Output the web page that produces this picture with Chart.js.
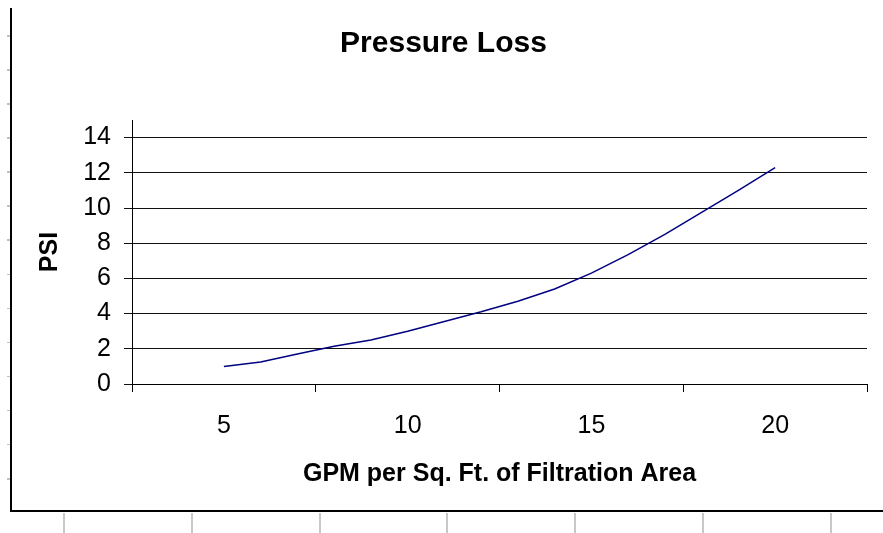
<!DOCTYPE html>
<html lang="en">
<head>
  <meta charset="UTF-8" />
  <title>Pressure Loss</title>
  <script src="https://cdn.jsdelivr.net/npm/chart.js"></script>
  <style>
    html, body {
      margin: 0;
      padding: 0;
      background: #fff;
      width: 883px;
      height: 533px;
      overflow: hidden;
      position: relative;
    }
    /* worksheet frame around the chart object */
    #frame {
      position: absolute;
      left: 10px;
      top: 8px;
      width: 871px;
      height: 502px;
      border-left: 2px solid #000;
      border-bottom: 2px solid #000;
    }
    #rowTicks {
      position: absolute;
      left: 7px;
      top: 35px;
      width: 3px;
      height: 460px;
      background: repeating-linear-gradient(to bottom, #c0c0c0 0 1.5px, transparent 1.5px 34.08px);
    }
    #colTicks {
      position: absolute;
      left: 63px;
      top: 513px;
      width: 820px;
      height: 20px;
      background: repeating-linear-gradient(to right, #c8c8c8 0 2px, transparent 2px 127.8px);
    }
    canvas {
      position: absolute;
      left: 0;
      top: 0;
    }
  </style>
</head>
<body>
  <div id="frame"></div>
  <div id="rowTicks"></div>
  <div id="colTicks"></div>
  <canvas id="chart" width="883" height="533"></canvas>

  <script>
    // GPM per sq. ft. and the pressure loss
    const gpm = [5, 6, 7, 8, 9, 10, 11, 12, 13, 14, 15, 16, 17, 18, 19, 20];
    const psi = [1.0, 1.25, 1.7, 2.15, 2.5, 3.0, 3.55, 4.1, 4.7, 5.4, 6.3, 7.35, 8.5, 9.75, 11.0, 12.3];
    const xLabels = [5, 10, 15, 20];
    const yTicks = [0, 2, 4, 6, 8, 10, 12, 14];

    Chart.defaults.font.family = '"Liberation Sans", Arial, sans-serif';
    Chart.defaults.color = '#000';

    const points = gpm.map((g, i) => ({ x: g, y: psi[i] }));

    new Chart(document.getElementById('chart'), {
      type: 'line',
      data: {
        datasets: [{
          label: 'PSI',
          data: points,
          borderColor: '#000080',
          borderWidth: 1.5,
          pointRadius: 0,
          tension: 0,
          fill: false
        }]
      },
      options: {
        responsive: false,
        animation: false,
        layout: { padding: { left: 20, right: 16, top: 0, bottom: 40 } },
        plugins: {
          legend: { display: false },
          tooltip: { enabled: false },
          title: {
            display: true,
            text: 'Pressure Loss',
            font: { size: 30, weight: 'bold' },
            padding: { top: 26, bottom: 58 }
          }
        },
        scales: {
          x: {
            type: 'linear',
            min: 2.5,
            max: 22.5,
            afterBuildTicks: (scale) => {
              const t = [];
              for (let v = 2.5; v <= 22.5 + 1e-9; v += 2.5) t.push({ value: v });
              scale.ticks = t;
            },
            afterFit: (scale) => {
              scale.height = 109;
              // end ticks carry no label, so no side padding is needed
              scale.paddingLeft = 0;
              scale.paddingRight = 0;
            },
            ticks: {
              autoSkip: false,
              maxRotation: 0,
              padding: 19,
              font: { size: 25 },
              callback: (v) => xLabels.includes(v) ? String(v) : ''
            },
            grid: {
              drawOnChartArea: false,
              tickLength: 8,
              color: (ctx) => (ctx.tick && xLabels.includes(ctx.tick.value)) ? 'rgba(0,0,0,0)' : '#000'
            },
            border: { display: true, color: '#000', width: 1 },
            title: {
              display: true,
              text: 'GPM per Sq. Ft. of Filtration Area',
              font: { size: 25, weight: 'bold' },
              padding: { top: 4, bottom: 4 }
            }
          },
          y: {
            min: 0,
            max: 15,
            afterBuildTicks: (scale) => {
              scale.ticks = yTicks.map(v => ({ value: v }));
            },
            afterFit: (scale) => { scale.width = 112; },
            ticks: {
              padding: 13,
              font: { size: 25 }
            },
            grid: {
              color: '#111',
              lineWidth: 1,
              tickLength: 8
            },
            border: { display: true, color: '#000', width: 1 },
            title: {
              display: true,
              text: 'PSI',
              font: { size: 25, weight: 'bold' },
              padding: { top: 15, bottom: 0 }
            }
          }
        }
      }
    });
  </script>
</body>
</html>
